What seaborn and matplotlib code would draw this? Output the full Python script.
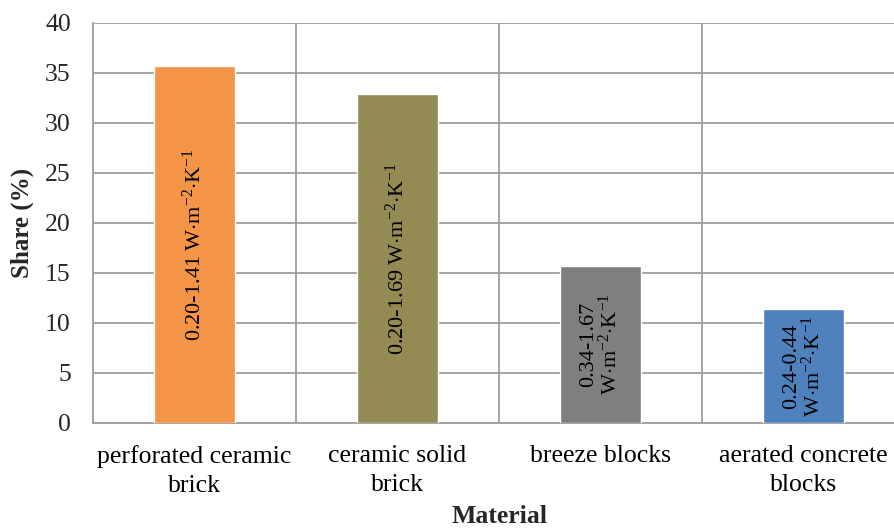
import matplotlib
matplotlib.use("Agg")
import matplotlib.pyplot as plt
import seaborn as sns
import pandas as pd

categories = ["perforated ceramic\nbrick", "ceramic solid\nbrick", "breeze blocks", "aerated concrete\nblocks"]
shares = [35.7, 32.9, 15.7, 11.4]
bar_labels = [
    r"0.20-1.41 W$\cdot$m$^{-2}$$\cdot$K$^{-1}$",
    r"0.20-1.69 W$\cdot$m$^{-2}$$\cdot$K$^{-1}$",
    "0.34-1.67\n" + r"W$\cdot$m$^{-2}$$\cdot$K$^{-1}$",
    "0.24-0.44\n" + r"W$\cdot$m$^{-2}$$\cdot$K$^{-1}$",
]
colors = ["#F39447", "#948A54", "#7F7F7F", "#4F81BD"]
yticks = [0, 5, 10, 15, 20, 25, 30, 35, 40]

sns.set_theme(style="white")
plt.rcParams["font.family"] = ["Liberation Serif", "DejaVu Serif"]
plt.rcParams["mathtext.fontset"] = "custom"
plt.rcParams["mathtext.rm"] = "Liberation Serif"
plt.rcParams["mathtext.it"] = "Liberation Serif:italic"
plt.rcParams["mathtext.bf"] = "Liberation Serif:bold"

df = pd.DataFrame({"Material": categories, "Share": shares})

fig = plt.figure(figsize=(8.95, 5.32), dpi=100)
ax = fig.add_axes([0.1039, 0.2049, 0.9073, 0.752])

sns.barplot(data=df, x="Material", y="Share", hue="Material", palette=colors,
            width=0.4, saturation=1, legend=False, ax=ax, zorder=3)

grid_c = "#A09C9C"
ax.set_ylim(0, 40)
ax.set_xlim(-0.5, 3.5)
ax.set_yticks(yticks)
ax.set_yticklabels([str(v) for v in yticks], fontsize=18.5)
ax.set_xticks(range(len(categories)))
ax.set_xticklabels(categories, fontsize=18.5, linespacing=1.4)
ax.set_xticks([-0.5, 0.5, 1.5, 2.5, 3.5], minor=True)
ax.tick_params(axis="x", which="major", length=0, pad=16, colors="black")
ax.tick_params(axis="x", which="minor", length=7, width=1.2, color=grid_c, direction="out")
ax.tick_params(axis="y", which="major", length=7, width=1.2, color=grid_c, direction="out", pad=9)
ax.grid(axis="y", which="major", color=grid_c, linewidth=1.3, zorder=0)
ax.grid(axis="x", which="minor", color=grid_c, linewidth=1.3, zorder=0)
ax.grid(axis="x", which="major", visible=False)
ax.set_axisbelow(True)
for side in ["top", "right"]:
    ax.spines[side].set_visible(False)
for side in ["left", "bottom"]:
    ax.spines[side].set_color(grid_c)
    ax.spines[side].set_linewidth(1.3)

for i, (v, lab) in enumerate(zip(shares, bar_labels)):
    ax.text(i, v / 2, lab, rotation=90, ha="center", va="center",
            fontsize=16, color="black", linespacing=1.0, zorder=4)

ax.set_xlabel("Material", fontsize=18.5, fontweight="bold", labelpad=6)
ax.set_ylabel("Share (%)", fontsize=18, fontweight="bold", labelpad=8)

fig.savefig("out.png", dpi=100)
